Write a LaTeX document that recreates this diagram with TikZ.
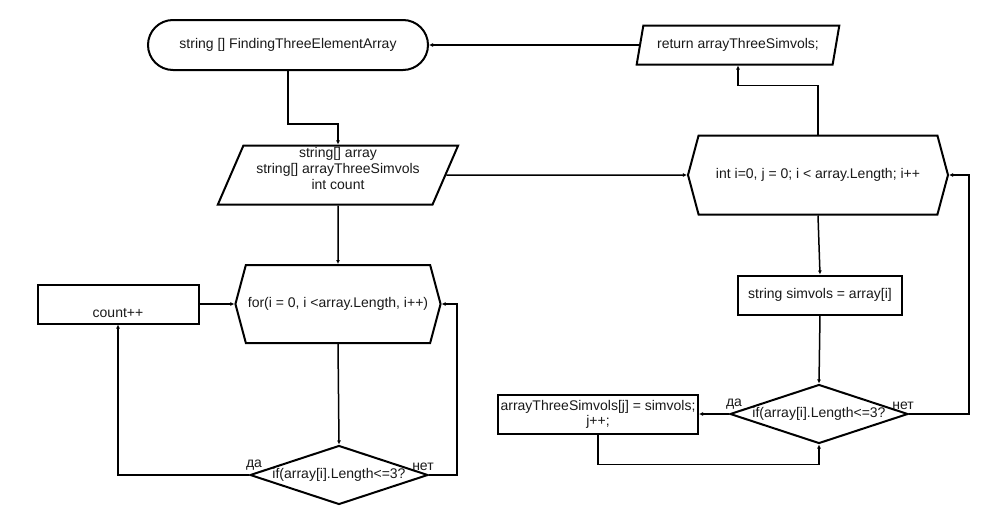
\documentclass[tikz,border=0pt]{standalone}
\usepackage{fontspec}
\setmainfont{Liberation Sans}
\usepackage{tikz}
\usetikzlibrary{shapes.geometric,shapes.symbols,arrows.meta}

\begin{document}
\begin{tikzpicture}[x=1pt, y=-1pt,
    every node/.style={font=\fontsize{14}{15}\selectfont, text=black!90},
    box/.style={draw, line width=2pt, minimum width=#1, minimum height=39, inner sep=2pt},
    term/.style={draw, line width=2pt, rounded corners=25pt, minimum width=280, minimum height=50},
    io/.style={draw, line width=2pt, trapezium, trapezium left angle=69, trapezium right angle=111,
        trapezium stretches=true, inner sep=1pt},
    loop/.style={draw, line width=2pt, signal, signal to=west and east, signal pointer angle=150,
        inner sep=2pt},
    cond/.style={draw, line width=2pt, diamond, aspect=3, inner sep=0pt, minimum width=178, minimum height=59},
    lbl/.style={inner sep=1pt},
    >={Latex[length=4pt,width=4pt]}, line width=1.5pt]
    \useasboundingbox (0,0) rectangle (989,525);

    % left column
    \node[term] (start) at (288,45) {string [] FindingThreeElementArray};
    \node[io, minimum width=241, minimum height=59, text depth=14pt] (input) at (338,175)
        {\shortstack{string[] array\\string[] arrayThreeSimvols\\int count}};
    \node[loop, minimum width=200, minimum height=78] (for) at (338,304) {for(i = 0, i <array.Length, i++)};
    \node[box=161, text height=29pt, text depth=3pt] (count) at (118,304) {count++};
    \node[cond] (cond1) at (339,475) {if(array[i].Length<=3?};
    \node[lbl, anchor=south] (yes1) at ([xshift=5,yshift=3]cond1.west) {да};
    \node[lbl, anchor=south] (no1) at ([xshift=-6,yshift=3]cond1.east) {нет};

    % right column
    \node[io, minimum width=203, minimum height=39] (ret) at (738,45) {return arrayThreeSimvols;};
    \node[loop, minimum width=260, minimum height=79] (iter) at (818,175) {int i=0, j = 0; i < array.Length; i++};
    \node[box=164] (simv) at (820,295) {string simvols = array[i]};
    \node[cond] (cond2) at (819,414) {if(array[i].Length<=3?};
    \node[box=200, align=center, inner sep=1pt] (assign) at (598,414) {arrayThreeSimvols[j] = simvols;\\j++;};
    \node[lbl, anchor=south] (yes2) at ([xshift=5,yshift=3]cond2.west) {да};
    \node[lbl, anchor=south] (no2) at ([xshift=-6,yshift=3]cond2.east) {нет};

    % connectors
    \draw[->] (start.south) -- ++(0,53) -| (input.north);
    \draw[->] (input.east) -- (iter.west);
    \draw[->] (iter.north) -- ++(0,-49) -| (ret.south);
    \draw[->] (ret.west) -- (start.east);
    \draw[->] (input.south) -- (for.north);
    \draw[->] (count.east) -- (for.west);
    \draw[->] (for.south) -- (cond1.north);
    \draw[->] (cond1.west) -| (count.south);
    \draw[->] (cond1.east) -- ++(28,0) |- (for.east);
    \draw[->] (iter.south) -- (simv.north);
    \draw[->] (simv.south) -- (cond2.north);
    \draw[->] (cond2.west) -- (assign.east);
    \draw[->] (assign.south) -- ++(0,30) -| (cond2.south);
    \draw[->] (cond2.east) -- ++(60,0) |- (iter.east);
\end{tikzpicture}
\end{document}
